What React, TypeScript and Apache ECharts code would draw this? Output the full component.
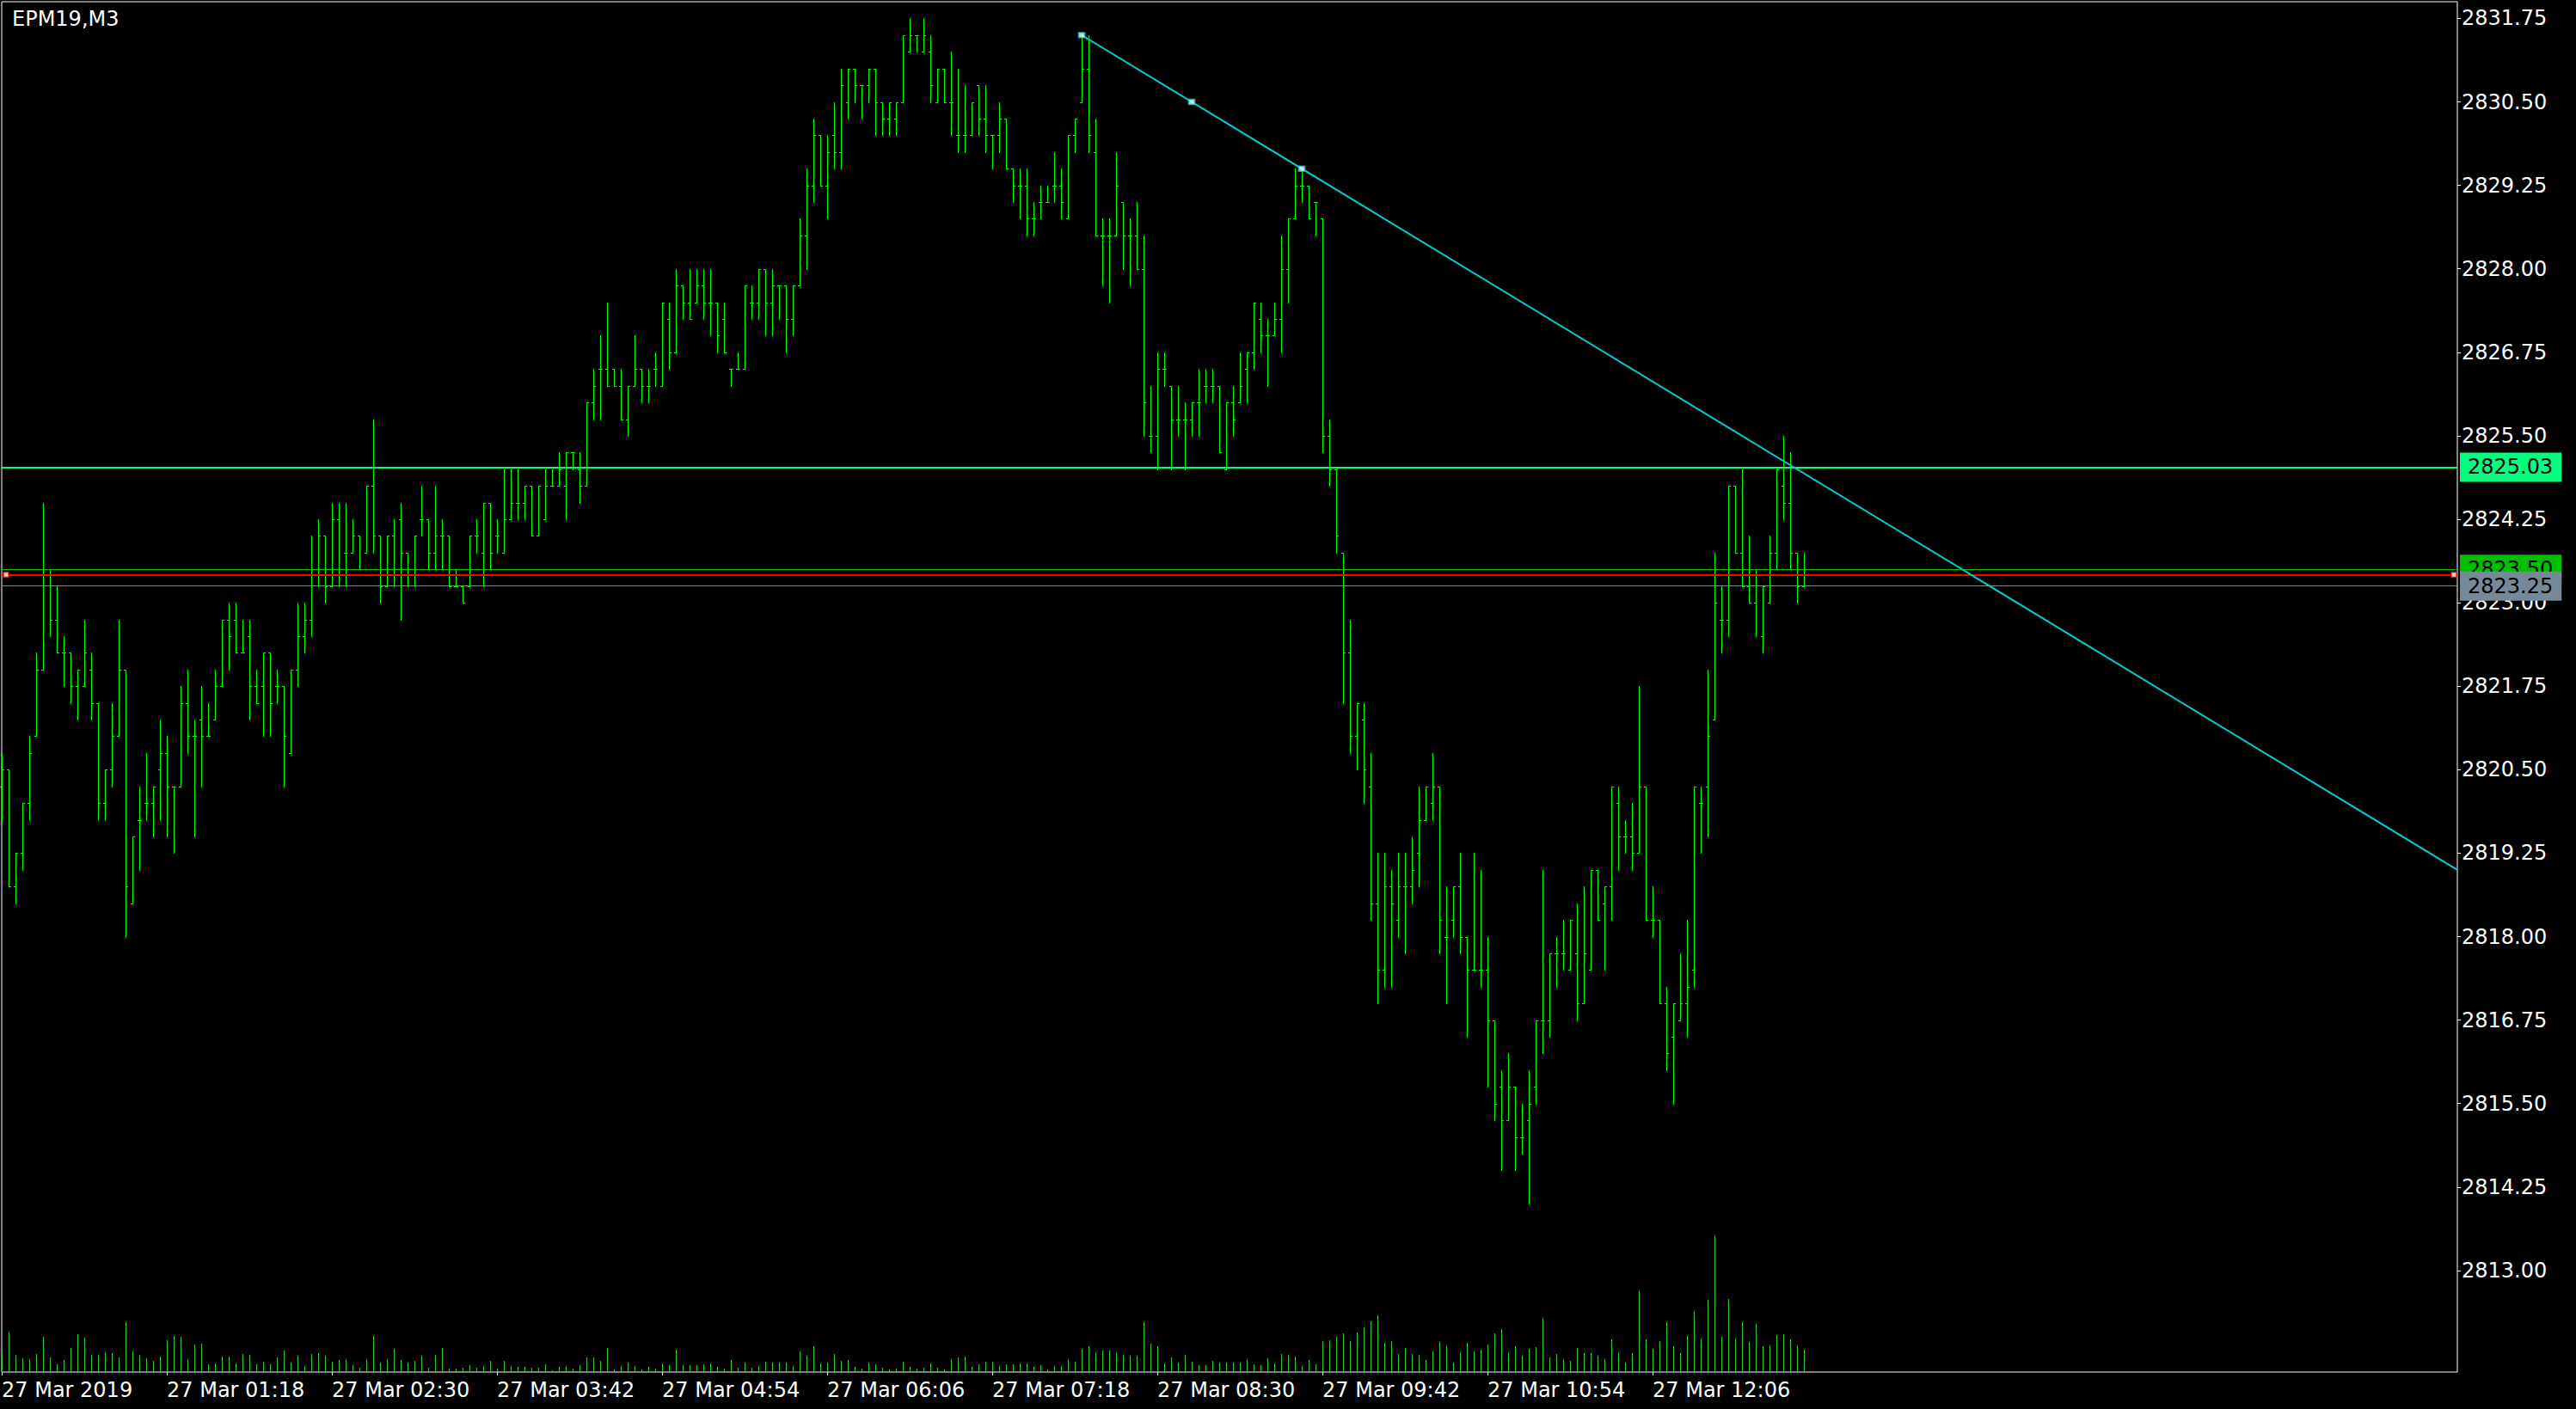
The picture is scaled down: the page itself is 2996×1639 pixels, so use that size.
import React, { useEffect, useRef } from "react";
import * as echarts from "echarts";

const TITLE = "EPM19,M3";
const FONT = "DejaVu Sans";
const SLOT_COUNT = 358; // bar slots across the chart window (incl. empty shift area)

const OPEN = [
  2820.25, 2820.5, 2818.75, 2819.25, 2820.0, 2821.0, 2822.0, 2823.5, 2822.75, 2822.25,
  2822.25, 2821.75, 2821.75, 2822.0, 2821.5, 2820.0, 2820.5, 2821.0, 2822.0, 2818.5,
  2819.75, 2820.0, 2820.0, 2820.5, 2820.75, 2820.25, 2820.25, 2821.5, 2821.0, 2821.25,
  2821.0, 2821.25, 2821.75, 2822.75, 2822.75, 2822.25, 2822.5, 2821.75, 2821.75, 2822.25,
  2821.75, 2821.75, 2820.75, 2822.0, 2822.5, 2822.75, 2823.5, 2824.0, 2823.25, 2824.25,
  2823.75, 2823.75, 2824.0, 2823.75, 2824.75, 2824.0, 2823.25, 2824.0, 2824.25, 2823.75,
  2823.5, 2824.25, 2824.25, 2823.75, 2824.0, 2824.0, 2823.25, 2823.25, 2823.25, 2824.0,
  2823.75, 2824.5, 2824.0, 2823.75, 2824.25, 2824.5, 2824.5, 2824.75, 2824.0, 2824.25,
  2824.75, 2824.75, 2824.75, 2825.25, 2825.0, 2824.75, 2826.0, 2826.5, 2826.5, 2826.5,
  2826.25, 2825.75, 2826.25, 2826.5, 2826.25, 2826.5, 2826.25, 2827.25, 2826.75, 2827.75,
  2827.5, 2827.5, 2827.75, 2827.5, 2827.5, 2827.25, 2826.5, 2826.5, 2826.5, 2827.5,
  2827.5, 2828.0, 2827.5, 2827.75, 2827.75, 2827.25, 2827.75, 2828.5, 2829.25, 2830.0,
  2829.25, 2830.0, 2829.75, 2830.5, 2831.0, 2830.75, 2830.75, 2831.0, 2830.5, 2830.25,
  2830.25, 2830.5, 2831.25, 2831.5, 2831.25, 2831.25, 2830.5, 2831.0, 2830.5, 2830.0,
  2830.0, 2830.0, 2830.75, 2830.25, 2830.0, 2830.0, 2830.25, 2829.5, 2829.25, 2829.25,
  2828.75, 2829.0, 2829.0, 2829.25, 2829.25, 2828.75, 2830.0, 2830.5, 2831.0, 2829.75,
  2828.5, 2828.5, 2828.5, 2829.0, 2828.5, 2828.5, 2828.0, 2825.5, 2825.5, 2826.5,
  2826.25, 2825.75, 2825.75, 2825.75, 2826.0, 2826.25, 2826.25, 2826.25, 2825.0, 2826.0,
  2826.0, 2826.5, 2826.75, 2827.25, 2827.0, 2827.0, 2827.25, 2828.0, 2828.75, 2829.25,
  2829.25, 2829.0, 2828.75, 2825.5, 2825.0, 2823.75, 2822.25, 2821.0, 2821.25, 2820.25,
  2818.5, 2817.5, 2818.75, 2818.25, 2818.75, 2818.75, 2819.25, 2819.75, 2820.0, 2820.25,
  2818.0, 2818.25, 2818.75, 2818.0, 2817.5, 2817.5, 2817.5, 2816.75, 2815.75, 2815.25,
  2815.75, 2815.0, 2815.25, 2815.75, 2816.75, 2816.75, 2817.75, 2817.75, 2817.5, 2817.75,
  2817.0, 2817.5, 2819.0, 2818.5, 2818.75, 2820.0, 2819.5, 2819.5, 2819.25, 2820.25,
  2818.25, 2818.25, 2817.0, 2816.5, 2816.75, 2817.0, 2817.5, 2820.0, 2820.25, 2821.25,
  2822.75, 2822.75, 2824.75, 2823.75, 2823.25, 2823.0, 2822.5, 2823.0, 2823.75, 2824.75,
  2824.5, 2823.75, 2823.25,
];

const HIGH = [
  2820.75, 2820.5, 2819.25, 2820.0, 2821.0, 2822.25, 2824.5, 2823.5, 2823.25, 2822.5,
  2822.25, 2822.0, 2822.75, 2822.25, 2821.5, 2820.5, 2821.5, 2822.75, 2822.0, 2819.5,
  2820.25, 2820.75, 2820.25, 2821.25, 2821.0, 2820.25, 2821.75, 2822.0, 2821.25, 2821.75,
  2821.5, 2822.0, 2822.75, 2823.0, 2823.0, 2822.75, 2822.75, 2822.0, 2822.25, 2822.25,
  2822.0, 2821.75, 2822.0, 2823.0, 2823.0, 2824.0, 2824.25, 2824.0, 2824.5, 2824.5,
  2824.5, 2824.25, 2824.0, 2824.75, 2825.75, 2824.0, 2824.0, 2824.25, 2824.5, 2823.75,
  2824.0, 2824.75, 2824.25, 2824.75, 2824.25, 2824.0, 2823.5, 2823.25, 2824.0, 2824.25,
  2824.5, 2824.5, 2824.25, 2825.0, 2825.0, 2825.0, 2824.75, 2824.75, 2824.75, 2825.0,
  2825.0, 2825.25, 2825.25, 2825.25, 2825.25, 2826.0, 2826.5, 2827.0, 2827.5, 2826.5,
  2826.5, 2826.25, 2827.0, 2826.5, 2826.5, 2826.75, 2827.5, 2827.5, 2828.0, 2827.75,
  2828.0, 2828.0, 2828.0, 2828.0, 2827.5, 2827.5, 2826.5, 2826.75, 2827.75, 2827.75,
  2828.0, 2828.0, 2828.0, 2827.75, 2827.75, 2827.75, 2828.75, 2829.5, 2830.25, 2830.0,
  2830.0, 2830.5, 2831.0, 2831.0, 2831.0, 2830.75, 2831.0, 2831.0, 2830.5, 2830.5,
  2830.5, 2831.5, 2831.75, 2831.5, 2831.75, 2831.5, 2831.0, 2831.0, 2831.25, 2831.0,
  2830.75, 2830.5, 2830.75, 2830.75, 2830.0, 2830.5, 2830.25, 2829.5, 2829.5, 2829.5,
  2829.0, 2829.25, 2829.25, 2829.75, 2829.5, 2830.0, 2830.25, 2831.5, 2831.5, 2830.25,
  2828.75, 2828.75, 2829.75, 2829.0, 2828.75, 2829.0, 2828.5, 2826.25, 2826.75, 2826.75,
  2826.25, 2826.25, 2826.0, 2826.0, 2826.5, 2826.5, 2826.5, 2826.25, 2826.0, 2826.25,
  2826.75, 2826.75, 2827.5, 2827.5, 2827.25, 2827.5, 2828.5, 2828.75, 2829.5, 2829.5,
  2829.25, 2829.0, 2828.75, 2825.75, 2825.0, 2823.75, 2822.75, 2821.5, 2821.5, 2820.75,
  2819.25, 2819.25, 2819.0, 2819.25, 2819.25, 2819.5, 2820.25, 2820.25, 2820.75, 2820.25,
  2818.75, 2818.75, 2819.25, 2818.0, 2819.25, 2819.0, 2818.0, 2816.75, 2816.0, 2816.25,
  2815.75, 2815.5, 2816.0, 2816.75, 2819.0, 2817.75, 2818.0, 2818.25, 2818.25, 2818.5,
  2818.75, 2819.0, 2819.0, 2818.75, 2820.25, 2820.25, 2819.75, 2820.0, 2821.75, 2820.25,
  2818.75, 2818.25, 2817.25, 2817.0, 2817.75, 2818.25, 2820.25, 2820.25, 2822.0, 2823.75,
  2823.25, 2824.75, 2824.75, 2825.0, 2824.0, 2823.5, 2823.25, 2824.0, 2825.0, 2825.5,
  2825.25, 2823.75, 2823.75,
];

const LOW = [
  2819.75, 2818.75, 2818.5, 2819.0, 2819.75, 2821.0, 2822.0, 2822.5, 2822.25, 2821.75,
  2821.5, 2821.25, 2821.75, 2821.25, 2819.75, 2819.75, 2820.25, 2821.0, 2818.0, 2818.5,
  2819.0, 2819.75, 2819.5, 2819.75, 2819.5, 2819.25, 2820.25, 2820.75, 2819.5, 2820.25,
  2821.0, 2821.25, 2821.75, 2822.0, 2822.25, 2822.25, 2821.25, 2821.5, 2821.0, 2821.0,
  2821.5, 2820.25, 2820.75, 2821.75, 2822.25, 2822.5, 2823.25, 2823.0, 2823.25, 2823.25,
  2823.25, 2823.75, 2823.5, 2823.75, 2823.75, 2823.0, 2823.25, 2823.25, 2822.75, 2823.25,
  2823.25, 2824.0, 2823.5, 2823.5, 2823.5, 2823.25, 2823.25, 2823.0, 2823.25, 2823.75,
  2823.25, 2823.5, 2823.75, 2823.75, 2824.25, 2824.25, 2824.25, 2824.0, 2824.0, 2824.25,
  2824.75, 2824.75, 2824.25, 2825.0, 2824.5, 2824.75, 2825.75, 2825.75, 2826.25, 2826.25,
  2825.75, 2825.5, 2826.25, 2826.0, 2826.0, 2826.25, 2826.25, 2826.5, 2826.75, 2827.25,
  2827.25, 2827.5, 2827.25, 2827.0, 2826.75, 2826.75, 2826.25, 2826.5, 2826.5, 2827.25,
  2827.25, 2827.0, 2827.0, 2827.25, 2826.75, 2827.0, 2827.75, 2828.0, 2829.0, 2829.25,
  2828.75, 2829.5, 2829.5, 2830.25, 2830.5, 2830.25, 2830.5, 2830.0, 2830.0, 2830.0,
  2830.0, 2830.5, 2831.25, 2831.25, 2831.25, 2830.5, 2830.5, 2830.5, 2830.0, 2829.75,
  2829.75, 2830.0, 2830.0, 2829.75, 2829.5, 2829.75, 2829.5, 2829.0, 2828.75, 2828.5,
  2828.5, 2828.75, 2829.0, 2829.0, 2828.75, 2828.75, 2829.75, 2830.5, 2829.75, 2828.5,
  2827.75, 2827.5, 2828.5, 2828.0, 2827.75, 2828.0, 2825.5, 2825.25, 2825.0, 2826.25,
  2825.0, 2825.5, 2825.0, 2825.5, 2825.5, 2826.0, 2826.0, 2825.25, 2825.0, 2825.5,
  2826.0, 2826.0, 2826.5, 2826.75, 2826.25, 2827.0, 2826.75, 2827.5, 2828.75, 2829.0,
  2828.75, 2828.5, 2825.25, 2824.75, 2823.75, 2821.5, 2820.75, 2820.5, 2820.0, 2818.25,
  2817.0, 2817.25, 2817.25, 2818.0, 2817.75, 2818.5, 2818.75, 2819.75, 2819.75, 2817.75,
  2817.0, 2818.0, 2817.75, 2816.5, 2817.5, 2817.25, 2815.75, 2815.25, 2814.5, 2815.25,
  2814.5, 2814.75, 2814.0, 2815.5, 2816.25, 2816.5, 2817.25, 2817.5, 2817.5, 2816.75,
  2817.0, 2817.5, 2818.25, 2817.5, 2818.25, 2819.0, 2819.25, 2819.0, 2819.25, 2818.25,
  2818.0, 2817.0, 2816.0, 2815.5, 2816.75, 2816.5, 2817.25, 2819.25, 2819.5, 2821.25,
  2822.25, 2822.5, 2823.75, 2823.25, 2823.0, 2822.5, 2822.25, 2823.0, 2823.5, 2824.25,
  2823.5, 2823.0, 2823.25,
];

const CLOSE = [
  2820.5, 2818.75, 2819.25, 2820.0, 2820.75, 2822.0, 2823.5, 2822.75, 2822.25, 2822.25,
  2821.75, 2822.0, 2822.25, 2821.5, 2820.0, 2820.5, 2821.0, 2822.0, 2818.75, 2819.5,
  2819.75, 2820.0, 2820.25, 2820.75, 2820.25, 2820.25, 2821.5, 2821.0, 2821.0, 2821.0,
  2821.0, 2821.75, 2822.75, 2822.5, 2822.25, 2822.25, 2821.75, 2821.5, 2822.25, 2821.5,
  2821.75, 2821.0, 2822.0, 2822.5, 2822.75, 2823.5, 2824.0, 2823.25, 2824.25, 2823.5,
  2823.75, 2824.0, 2823.5, 2824.75, 2824.0, 2823.25, 2824.0, 2823.5, 2823.75, 2823.5,
  2824.0, 2824.25, 2823.75, 2824.0, 2824.0, 2823.25, 2823.25, 2823.0, 2824.0, 2824.0,
  2824.5, 2823.75, 2824.0, 2824.25, 2824.5, 2824.5, 2824.75, 2824.0, 2824.75, 2824.75,
  2824.75, 2825.0, 2825.25, 2825.25, 2824.75, 2826.0, 2826.25, 2826.5, 2826.25, 2826.25,
  2825.75, 2826.25, 2826.5, 2826.25, 2826.25, 2826.5, 2827.5, 2826.75, 2827.75, 2827.5,
  2827.25, 2827.75, 2827.5, 2827.5, 2827.0, 2826.75, 2826.5, 2826.5, 2827.75, 2827.5,
  2828.0, 2827.5, 2827.75, 2827.75, 2827.25, 2827.75, 2828.5, 2829.25, 2830.0, 2829.25,
  2829.75, 2829.75, 2830.75, 2831.0, 2830.75, 2830.75, 2831.0, 2830.5, 2830.25, 2830.5,
  2830.5, 2831.5, 2831.5, 2831.5, 2831.5, 2830.75, 2831.0, 2830.5, 2830.5, 2830.0,
  2830.0, 2830.5, 2830.25, 2830.0, 2830.0, 2830.25, 2829.5, 2829.25, 2829.25, 2828.75,
  2828.75, 2829.0, 2829.0, 2829.25, 2829.0, 2830.0, 2830.25, 2831.0, 2830.0, 2828.5,
  2828.5, 2828.5, 2829.25, 2828.5, 2828.5, 2828.0, 2826.0, 2825.5, 2826.5, 2826.5,
  2825.75, 2825.75, 2825.75, 2826.0, 2826.0, 2826.25, 2826.25, 2825.25, 2826.0, 2825.75,
  2826.25, 2826.75, 2827.5, 2827.0, 2827.0, 2827.25, 2828.0, 2828.75, 2829.25, 2829.25,
  2828.75, 2829.0, 2825.5, 2825.0, 2824.0, 2822.25, 2821.0, 2821.5, 2820.5, 2818.5,
  2817.5, 2818.75, 2818.5, 2818.75, 2818.75, 2819.0, 2819.75, 2820.25, 2820.25, 2818.25,
  2818.0, 2818.75, 2818.0, 2817.5, 2817.5, 2817.5, 2816.75, 2815.5, 2815.25, 2815.75,
  2815.0, 2815.0, 2815.5, 2816.75, 2816.75, 2817.75, 2817.75, 2817.75, 2818.25, 2817.0,
  2817.75, 2819.0, 2818.25, 2818.75, 2820.25, 2819.5, 2819.5, 2819.25, 2820.25, 2818.25,
  2818.25, 2817.0, 2816.25, 2817.0, 2817.0, 2817.25, 2820.25, 2820.0, 2821.0, 2823.0,
  2822.75, 2824.75, 2823.75, 2823.25, 2823.0, 2823.5, 2823.25, 2823.75, 2825.0, 2824.5,
  2823.75, 2823.25, 2823.5,
];

const VOLUME = [
  20,
  47, 20, 16, 15, 21, 41, 17, 9, 14, 28,
  44, 40, 20, 20, 23, 22, 17, 58, 24, 20,
  16, 13, 18, 37, 42, 41, 15, 32, 33, 9,
  10, 18, 18, 10, 21, 20, 9, 12, 9, 17,
  25, 11, 19, 7, 21, 22, 19, 12, 14, 15,
  8, 5, 15, 42, 11, 15, 27, 14, 11, 13,
  19, 5, 20, 28, 4, 4, 5, 8, 5, 7,
  13, 4, 13, 7, 6, 6, 5, 5, 9, 2,
  6, 7, 4, 8, 17, 17, 13, 28, 3, 7,
  11, 7, 3, 6, 4, 10, 8, 26, 8, 8,
  8, 9, 10, 6, 4, 14, 5, 11, 5, 7,
  12, 11, 11, 11, 7, 24, 19, 30, 10, 11,
  21, 13, 14, 6, 4, 11, 9, 5, 3, 4,
  12, 6, 4, 5, 10, 5, 3,
  15, 17, 18, 6, 9, 12, 12, 7, 9, 9,
  10, 10, 6, 8, 3, 7, 7, 15, 12, 27,
  30, 23, 25, 25, 23, 20, 19, 19, 58, 33,
  30, 10, 17, 11, 20, 12, 8, 8, 13, 11,
  11, 11, 11, 15, 9, 8, 16, 10, 21, 20,
  18, 7, 14, 9, 36, 37, 41, 45, 36, 46,
  52, 59, 66, 34, 36, 21, 28, 21, 20, 14,
  24, 35, 31, 11, 23, 34, 24, 26, 32, 45,
  50, 23, 30, 19, 27, 29, 63, 17, 21, 15,
  13, 28, 22, 22, 19, 15, 38, 23, 11, 22,
  95, 38, 27, 36, 58, 30, 22, 42, 71, 39,
  84, 159, 41, 85, 39, 58, 35, 56, 30, 31,
  43, 44, 38, 31, 26,
];

const TICK_LABELS = [
  "27 Mar 2019", "27 Mar 01:18", "27 Mar 02:30", "27 Mar 03:42", "27 Mar 04:54",
  "27 Mar 06:06", "27 Mar 07:18", "27 Mar 08:30", "27 Mar 09:42", "27 Mar 10:54", "27 Mar 12:06",
];
const LABEL_EVERY = 24;

const PRICE_TICKS = [
  2813.0, 2814.25, 2815.5, 2816.75, 2818.0, 2819.25, 2820.5, 2821.75,
  2823.0, 2824.25, 2825.5, 2826.75, 2828.0, 2829.25, 2830.5, 2831.75,
];

const LEVEL_LINE = 2825.03;
const BID = 2823.5;
const ASK = 2823.25;
const RED_LINE = 2823.42;
const TREND_A = [157, 2831.5];
const TREND_MID = [173, 2830.5];
const TREND_B = [189, 2829.5];

const BAR_COLOR = "#00FF00";
const VOL_COLOR = "#32CD32";
const TREND_COLOR = "#00CED1";

const pad = (n: number) => (n < 10 ? "0" + n : "" + n);
const CATEGORIES = Array.from({ length: SLOT_COUNT }, (_, i) => {
  const m = 6 + 3 * i;
  return pad(Math.floor(m / 60) % 24) + ":" + pad(m % 60);
});

const BAR_COUNT = OPEN.length;
const showTick = (idx: number) => idx % LABEL_EVERY === 0 && idx < BAR_COUNT;

export default function App() {
  const ref = useRef<HTMLDivElement>(null);
  useEffect(() => {
    const chart = echarts.init(ref.current!, null, { renderer: "svg" });
    const slope = (TREND_B[1] - TREND_A[1]) / (TREND_B[0] - TREND_A[0]);
    const lastSlot = SLOT_COUNT - 1;
    const trendEnd = TREND_A[1] + slope * (lastSlot - TREND_A[0]);
    const ohlc = OPEN.map((o, i) => [i, o, HIGH[i], LOW[i], CLOSE[i]]);
    const vols = VOLUME.map((v, i) => [i, v]);
    const labelBase = {
      show: true,
      position: "end",
      distance: 3,
      formatter: (p: any) => Number(p.value).toFixed(2),
      color: "#000",
      padding: [5, 10, 5, 9],
      fontSize: 24,
      fontFamily: FONT,
    };
    chart.setOption({
      animation: false,
      backgroundColor: "#000",
      graphic: [
        {
          type: "text",
          x: 14,
          y: 22,
          z: 100,
          style: {
            text: TITLE,
            fill: "#fff",
            fontSize: 24,
            fontFamily: FONT,
            verticalAlign: "middle",
            align: "left",
          },
        },
      ],
      grid: {
        left: 2,
        right: 138,
        top: 2,
        bottom: 43,
        show: true,
        borderColor: "#fff",
        borderWidth: 1,
        backgroundColor: "#000",
        containLabel: false,
        outerBoundsMode: "none",
      },
      xAxis: {
        type: "category",
        data: CATEGORIES,
        boundaryGap: false,
        axisLine: { show: false },
        axisTick: {
          show: true,
          interval: (idx: number) => showTick(idx),
          length: 4,
          lineStyle: { color: "#fff", width: 1 },
        },
        axisLabel: {
          show: true,
          interval: (idx: number) => showTick(idx),
          formatter: (_v: string, idx: number) => TICK_LABELS[Math.round(idx / LABEL_EVERY)] || "",
          color: "#fff",
          fontSize: 24,
          fontFamily: FONT,
          align: "left",
          verticalAlign: "middle",
          margin: 21,
          showMinLabel: true,
          hideOverlap: false,
        },
        splitLine: { show: false },
      },
      yAxis: [
        {
          type: "value",
          position: "right",
          min: 2811.48,
          max: 2832.0,
          axisLine: { show: false },
          splitLine: { show: false },
          axisTick: {
            show: true,
            length: 4,
            customValues: PRICE_TICKS,
            lineStyle: { color: "#fff", width: 1 },
          },
          axisLabel: {
            show: true,
            customValues: PRICE_TICKS,
            formatter: (v: number) => v.toFixed(2),
            color: "#fff",
            fontSize: 24,
            fontFamily: FONT,
            margin: 5,
          },
        },
        {
          type: "value",
          show: false,
          min: 0,
          max: 1594,
          splitLine: { show: false },
        },
      ],
      series: [
        {
          type: "custom",
          name: "volume",
          yAxisIndex: 1,
          data: vols,
          encode: { x: 0, y: 1 },
          z: 2,
          renderItem: (_params: any, api: any) => {
            const i = api.value(0);
            const top = api.coord([i, api.value(1)]);
            const base = api.coord([i, 0]);
            const c = Math.round(top[0]) + 0.5;
            return {
              type: "line",
              shape: { x1: c, y1: Math.round(top[1]), x2: c, y2: Math.round(base[1]) },
              style: { stroke: VOL_COLOR, lineWidth: 1 },
            };
          },
        },
        {
          type: "line",
          name: "levels",
          data: [],
          z: 3,
          markLine: {
            silent: true,
            symbol: ["none", "none"],
            animation: false,
            precision: 2,
            data: [
              {
                yAxis: LEVEL_LINE,
                lineStyle: { color: "#00FF7F", width: 2, type: "solid" },
                label: { ...labelBase, backgroundColor: "#00FF7F" },
              },
              {
                yAxis: BID,
                lineStyle: { color: "#00C000", width: 1, type: "solid" },
                label: { ...labelBase, backgroundColor: "#00C000" },
              },
              {
                yAxis: RED_LINE,
                lineStyle: { color: "#FF0000", width: 2, type: "solid" },
                label: { show: false },
              },
              {
                yAxis: ASK,
                lineStyle: { color: "#778899", width: 1, type: "solid" },
                label: { ...labelBase, backgroundColor: "#778899" },
              },
            ],
          },
        },
        {
          type: "custom",
          name: "ohlc",
          yAxisIndex: 0,
          data: ohlc,
          encode: { x: 0, y: [1, 2, 3, 4] },
          z: 4,
          renderItem: (_params: any, api: any) => {
            const i = api.value(0);
            const pO = api.coord([i, api.value(1)]);
            const yH = Math.round(api.coord([i, api.value(2)])[1]);
            const yL = Math.round(api.coord([i, api.value(3)])[1]);
            const yC = Math.round(api.coord([i, api.value(4)])[1]) + 0.5;
            const yO = Math.round(pO[1]) + 0.5;
            const c = Math.round(pO[0]);
            const style = { stroke: BAR_COLOR, lineWidth: 1 };
            return {
              type: "group",
              children: [
                { type: "line", shape: { x1: c + 0.5, y1: yH, x2: c + 0.5, y2: yL + 1 }, style },
                { type: "line", shape: { x1: c - 2, y1: yO, x2: c + 1, y2: yO }, style },
                { type: "line", shape: { x1: c, y1: yC, x2: c + 3, y2: yC }, style },
              ],
            };
          },
        },
        {
          type: "line",
          name: "trendline",
          yAxisIndex: 0,
          data: [TREND_A, [lastSlot, trendEnd]],
          symbol: "none",
          z: 5,
          lineStyle: { color: TREND_COLOR, width: 2 },
        },
        {
          type: "scatter",
          name: "trend handles",
          yAxisIndex: 0,
          clip: false,
          z: 6,
          data: [TREND_A, TREND_MID, TREND_B],
          symbol: "rect",
          symbolSize: [7, 6],
          itemStyle: { color: "#fff", borderColor: TREND_COLOR, borderWidth: 1.5 },
        },
        {
          type: "scatter",
          name: "line handles",
          yAxisIndex: 0,
          clip: false,
          z: 6,
          data: [
            { value: [0, RED_LINE], symbolOffset: [5, 0] },
            { value: [lastSlot, RED_LINE], symbolOffset: [-4, 0] },
          ],
          symbol: "rect",
          symbolSize: [6, 6],
          itemStyle: { color: "#fff", borderColor: "#FF0000", borderWidth: 1.5 },
        },
      ],
    });
    return () => chart.dispose();
  }, []);
  return (
    <div
      ref={ref}
      style={{ position: "fixed", left: 0, top: 0, width: 2996, height: 1639, background: "#000" }}
    />
  );
}
